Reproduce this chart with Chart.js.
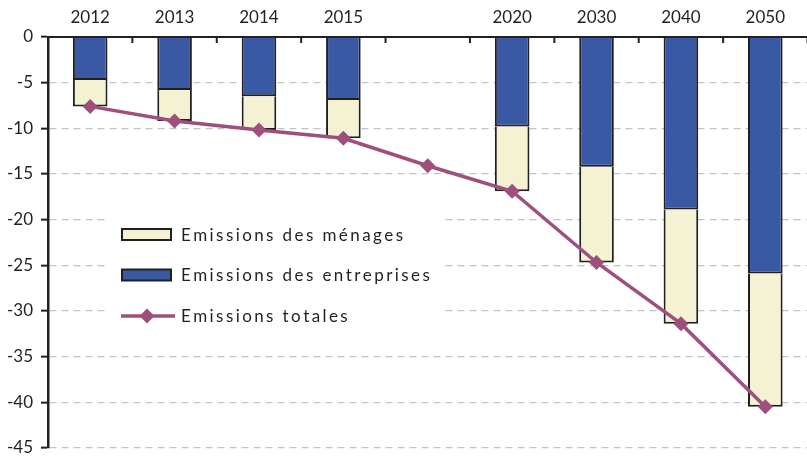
<!DOCTYPE html>
<html>
<head>
<meta charset="utf-8">
<script src="https://cdn.jsdelivr.net/npm/chart.js@4"></script>
<style>
  html, body { margin: 0; padding: 0; background: #fff; overflow: hidden; }
  #wrap { width: 815px; height: 466px; position: relative; }
</style>
</head>
<body>
<div id="wrap"><canvas id="c" width="815" height="466"></canvas></div>
<script>
const categories = ['2012', '2013', '2014', '2015', '', '2020', '2030', '2040', '2050'];
const entreprises = [-4.7, -5.8, -6.5, -6.9, null, -9.8, -14.2, -18.9, -25.9];
const menages = [-2.9, -3.4, -3.7, -4.2, null, -7.1, -10.5, -12.5, -14.6];
const totales = [-7.6, -9.2, -10.2, -11.1, -14.1, -16.9, -24.7, -31.4, -40.5];
const yTicks = [0, -5, -10, -15, -20, -25, -30, -35, -40, -45];
const legendLabels = ['Emissions des ménages', 'Emissions des entreprises', 'Emissions totales'];

const DARK = '#231f20';
const BLUE = '#3a59a5';
const CREAM = '#f4f2d3';
const MAUVE = '#9e4f7c';
const FONT = 'Lato, "Open Sans", sans-serif';

const catTicks = {
  id: 'catTicks',
  afterDraw(chart) {
    const x = chart.scales.x, ctx = chart.ctx, top = chart.chartArea.top;
    ctx.save();
    ctx.strokeStyle = DARK;
    ctx.lineWidth = 2;
    for (let i = 0; i < categories.length; i++) {
      const px = x.getPixelForValue(i) + (x.getPixelForValue(1) - x.getPixelForValue(0)) / 2;
      ctx.beginPath();
      ctx.moveTo(px, top);
      ctx.lineTo(px, top + 6);
      ctx.stroke();
    }
    ctx.restore();
  }
};

function spacedText(ctx, text, x, y, sp) {
  for (const ch of text) {
    ctx.fillText(ch, x, y);
    x += ctx.measureText(ch).width + sp;
  }
}

const innerLegend = {
  id: 'innerLegend',
  afterDraw(chart) {
    const ctx = chart.ctx;
    ctx.save();
    ctx.fillStyle = '#fff';
    ctx.fillRect(108, 182, 335, 162);
    const rows = [234.5, 275, 316];
    ctx.font = '17px ' + FONT;
    ctx.textBaseline = 'alphabetic';
    ctx.textAlign = 'left';
    let w = 0;
    for (const ch of legendLabels[0]) w += ctx.measureText(ch).width;
    const sp = (222 - w) / (legendLabels[0].length - 1);
    [[CREAM, rows[0]], [BLUE, rows[1]]].forEach(([col, cy]) => {
      ctx.fillStyle = col;
      ctx.fillRect(122, cy - 5.5, 49, 11);
      ctx.strokeStyle = DARK;
      ctx.lineWidth = 2;
      ctx.strokeRect(122, cy - 5.5, 49, 11);
    });
    ctx.strokeStyle = MAUVE;
    ctx.lineWidth = 3.5;
    ctx.beginPath();
    ctx.moveTo(121, rows[2]);
    ctx.lineTo(175, rows[2]);
    ctx.stroke();
    ctx.fillStyle = MAUVE;
    ctx.beginPath();
    ctx.moveTo(147, rows[2] - 7.5);
    ctx.lineTo(154.5, rows[2]);
    ctx.lineTo(147, rows[2] + 7.5);
    ctx.lineTo(139.5, rows[2]);
    ctx.closePath();
    ctx.fill();
    ctx.fillStyle = DARK;
    legendLabels.forEach((t, i) => spacedText(ctx, t, 181, rows[i] + 6.3, sp));
    ctx.restore();
  }
};

new Chart(document.getElementById('c'), {
  type: 'bar',
  data: {
    labels: categories,
    datasets: [
      {
        type: 'line',
        label: legendLabels[2],
        data: totales,
        stack: 'total',
        borderColor: MAUVE,
        borderWidth: 3.5,
        backgroundColor: MAUVE,
        pointStyle: 'rectRot',
        pointRadius: 7.5,
        pointHoverRadius: 7.5,
        pointBackgroundColor: MAUVE,
        pointBorderWidth: 0,
        tension: 0,
        order: 0
      },
      {
        label: legendLabels[1],
        data: entreprises,
        stack: 'bars',
        backgroundColor: BLUE,
        borderColor: DARK,
        borderWidth: { left: 2, right: 2, top: 0, bottom: 2 },
        borderSkipped: false,
        barPercentage: 0.41,
        categoryPercentage: 1,
        order: 1
      },
      {
        label: legendLabels[0],
        data: menages,
        stack: 'bars',
        backgroundColor: CREAM,
        borderColor: DARK,
        borderWidth: { left: 2, right: 2, top: 0, bottom: 2 },
        borderSkipped: false,
        barPercentage: 0.41,
        categoryPercentage: 1,
        order: 1
      }
    ]
  },
  options: {
    responsive: false,
    animation: false,
    layout: { padding: { top: 0, right: 2, bottom: 4, left: 0 } },
    plugins: { legend: { display: false }, tooltip: { enabled: false } },
    scales: {
      x: {
        position: 'top',
        stacked: true,
        grid: { display: false },
        border: { display: true, color: DARK, width: 2 },
        ticks: { color: DARK, font: { family: FONT, size: 17 }, padding: 1 },
        afterFit(s) { s.height = 37; }
      },
      y: {
        stacked: true,
        min: -45,
        max: 0,
        afterBuildTicks(s) { s.ticks = yTicks.map(v => ({ value: v })); },
        ticks: { color: DARK, font: { family: FONT, size: 17 }, padding: 8 },
        grid: { color: '#c4c4c4', lineWidth: 1.3, tickColor: DARK, tickLength: 7, tickWidth: 2 },
        border: { color: DARK, width: 2.5, dash: [7, 5] },
        afterFit(s) { s.width = 48; }
      }
    }
  },
  plugins: [catTicks, innerLegend]
});
</script>
</body>
</html>
